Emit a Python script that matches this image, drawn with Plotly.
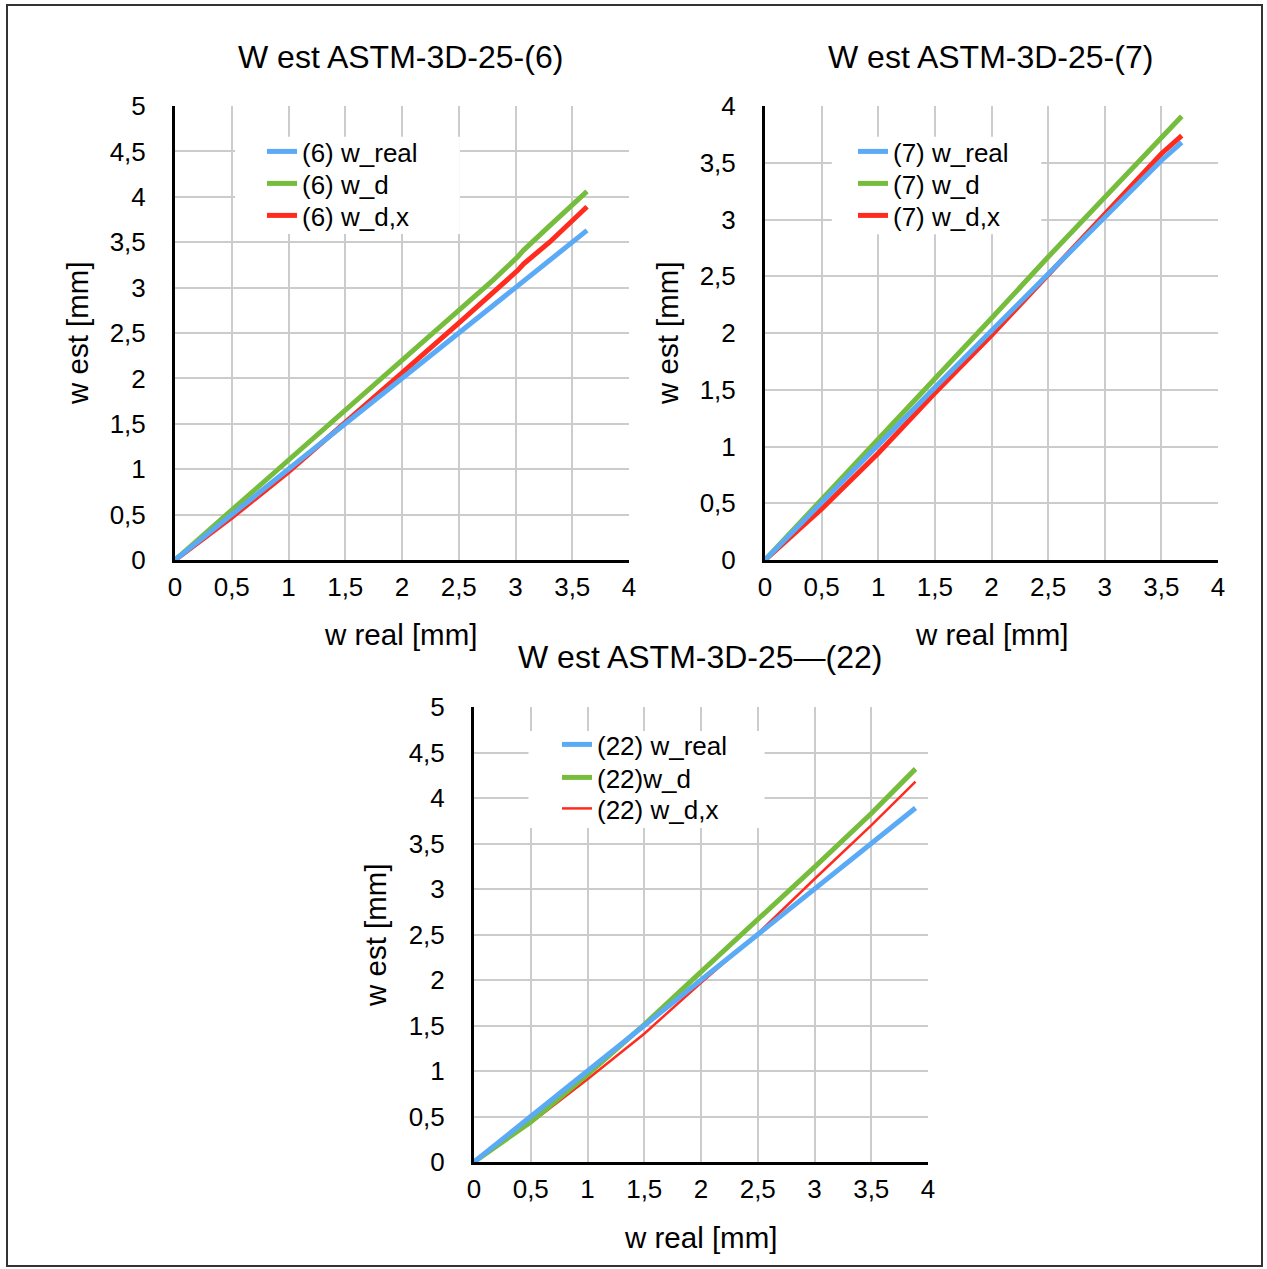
import plotly.graph_objects as go

# ---------------- data ----------------
x6 = [0, 0.5, 1.0, 1.5, 2.0, 2.5, 2.8, 3.02, 3.07, 3.3, 3.63]
w_real6 = [0, 0.5, 1.0, 1.5, 2.0, 2.5, 2.8, 3.02, 3.07, 3.3, 3.63]
w_d6 = [0, 0.55, 1.09, 1.64, 2.19, 2.75, 3.08, 3.34, 3.41, 3.68, 4.06]
w_dx6 = [0, 0.47, 0.97, 1.51, 2.06, 2.61, 2.94, 3.19, 3.26, 3.50, 3.89]

x7 = [0, 0.5, 1.0, 1.5, 2.0, 2.5, 3.0, 3.5, 3.68]
w_real7 = [0, 0.51, 1.01, 1.52, 2.02, 2.52, 3.01, 3.52, 3.68]
w_d7 = [0, 0.53, 1.06, 1.60, 2.13, 2.67, 3.19, 3.71, 3.91]
w_dx7 = [0, 0.45, 0.94, 1.47, 1.98, 2.51, 3.04, 3.58, 3.74]

x22 = [0, 0.5, 1.0, 1.5, 2.0, 2.5, 3.0, 3.5, 3.89]
w_real22 = [0, 0.5, 1.0, 1.5, 2.0, 2.5, 3.0, 3.5, 3.89]
w_d22 = [0, 0.44, 0.96, 1.51, 2.09, 2.66, 3.24, 3.83, 4.32]
w_dx22 = [0, 0.43, 0.91, 1.41, 1.97, 2.51, 3.11, 3.70, 4.18]

x_tickvals = [0, 0.5, 1, 1.5, 2, 2.5, 3, 3.5, 4]
x_ticktext = ["0", "0,5", "1", "1,5", "2", "2,5", "3", "3,5", "4"]
y5_tickvals = [0, 0.5, 1, 1.5, 2, 2.5, 3, 3.5, 4, 4.5, 5]
y5_ticktext = ["0", "0,5", "1", "1,5", "2", "2,5", "3", "3,5", "4", "4,5", "5"]
y4_tickvals = [0, 0.5, 1, 1.5, 2, 2.5, 3, 3.5, 4]
y4_ticktext = ["0", "0,5", "1", "1,5", "2", "2,5", "3", "3,5", "4"]

titles = ["W est ASTM-3D-25-(6)", "W est ASTM-3D-25-(7)", "W est ASTM-3D-25\u2014(22)"]
x_title = "w real [mm]"
y_title = "w est [mm]"

names6 = ["(6) w_real", "(6) w_d", "(6) w_d,x"]
names7 = ["(7) w_real", "(7) w_d", "(7) w_d,x"]
names22 = ["(22) w_real", "(22)w_d", "(22) w_d,x"]

BLUE = "#5AAAF5"
GREEN = "#77BD3D"
RED = "#FF2B1E"
FONT = "Liberation Sans, Arial, Helvetica, sans-serif"

W, H = 1267, 1269


def px(v):
    return v / W


def py(v):
    return 1 - v / H


fig = go.Figure()

# one legend per entry so the entry spacing matches the original
sets = [
    (x6, w_real6, w_d6, w_dx6, names6, "x", "y", ["legend", "legend2", "legend3"], 5),
    (x7, w_real7, w_d7, w_dx7, names7, "x2", "y2", ["legend4", "legend5", "legend6"], 5),
    (x22, w_real22, w_d22, w_dx22, names22, "x3", "y3", ["legend7", "legend8", "legend9"], 2.5),
]
for xs, wr, wd, wdx, names, xa, ya, lgs, redw in sets:
    fig.add_trace(go.Scatter(x=xs, y=wdx, mode="lines", name=names[2],
                             line=dict(color=RED, width=redw), xaxis=xa, yaxis=ya,
                             legend=lgs[2]))
    fig.add_trace(go.Scatter(x=xs, y=wd, mode="lines", name=names[1],
                             line=dict(color=GREEN, width=5), xaxis=xa, yaxis=ya,
                             legend=lgs[1]))
    fig.add_trace(go.Scatter(x=xs, y=wr, mode="lines", name=names[0],
                             line=dict(color=BLUE, width=5), xaxis=xa, yaxis=ya,
                             legend=lgs[0]))


def xaxis_cfg(dom, anchor):
    return dict(domain=dom, anchor=anchor, range=[0, 4], tickvals=x_tickvals,
                ticktext=x_ticktext, showgrid=True, gridcolor="#CCCCCC", gridwidth=1.5,
                zeroline=False, showline=True, linecolor="black", linewidth=3,
                ticks="", ticklabelstandoff=2, automargin=False,
                tickfont=dict(family=FONT, size=26, color="black"))


def yaxis_cfg(dom, anchor, top, tv, tt):
    return dict(domain=dom, anchor=anchor, range=[0, top], tickvals=tv, ticktext=tt,
                showgrid=True, gridcolor="#CCCCCC", gridwidth=1.5,
                zeroline=False, showline=True, linecolor="black", linewidth=3,
                ticks="", ticklabelstandoff=21, automargin=False,
                tickfont=dict(family=FONT, size=26, color="black"))


fig.update_layout(
    width=W, height=H, autosize=False,
    margin=dict(l=0, r=0, t=0, b=0, pad=0, autoexpand=False),
    paper_bgcolor="white", plot_bgcolor="white",
    font=dict(family=FONT, color="black"),
    xaxis=xaxis_cfg([px(175), px(629)], "y"),
    yaxis=yaxis_cfg([py(560), py(106)], "x", 5, y5_tickvals, y5_ticktext),
    xaxis2=xaxis_cfg([px(765), px(1218)], "y2"),
    yaxis2=yaxis_cfg([py(560), py(106)], "x2", 4, y4_tickvals, y4_ticktext),
    xaxis3=xaxis_cfg([px(474), px(928)], "y3"),
    yaxis3=yaxis_cfg([py(1162), py(707)], "x3", 5, y5_tickvals, y5_ticktext),
    showlegend=True,
)

leg_common = dict(xanchor="left", yanchor="top", bgcolor="rgba(0,0,0,0)", borderwidth=0,
                  font=dict(family=FONT, size=26, color="black"))
leg_pos = {
    "legend": (262, 128), "legend2": (262, 160), "legend3": (262, 192),
    "legend4": (853, 128), "legend5": (853, 160), "legend6": (853, 192),
    "legend7": (557, 721), "legend8": (557, 754), "legend9": (557, 785),
}
fig.update_layout(**{k: dict(x=px(v[0]), y=py(v[1]), **leg_common) for k, v in leg_pos.items()})

# white legend backgrounds (above gridlines, below traces)
legend_boxes = [
    ("x", "y", 0.53, 2.51, 3.59, 4.66),
    ("x2", "y2", 0.59, 2.44, 2.87, 3.73),
    ("x3", "y3", 0.48, 2.56, 3.67, 4.735),
]
for xr, yr, bx0, bx1, by0, by1 in legend_boxes:
    fig.add_shape(type="rect", xref=xr, yref=yr, x0=bx0, x1=bx1, y0=by0, y1=by1,
                  layer="between", line=dict(width=0), fillcolor="white")

annots = [
    (400, 57, titles[0], 32, 0),
    (990, 57, titles[1], 32, 0),
    (700, 657, titles[2], 32, 0),
    (401, 634, x_title, 29.5, 0),
    (991, 634, x_title, 29.5, 0),
    (700, 1237, x_title, 29.5, 0),
    (77, 333, y_title, 29.5, -90),
    (667, 333, y_title, 29.5, -90),
    (376, 935, y_title, 29.5, -90),
]
for ax_, ay_, txt, fs, ang in annots:
    fig.add_annotation(x=px(ax_), y=py(ay_), xref="paper", yref="paper", text=txt,
                       showarrow=False, xanchor="center", yanchor="middle",
                       textangle=ang, font=dict(family=FONT, size=fs, color="black"))

fig.add_shape(type="rect", xref="paper", yref="paper",
              x0=px(7), x1=px(1262), y0=py(1266), y1=py(5),
              line=dict(color="#333333", width=2), fillcolor="rgba(0,0,0,0)")

fig.write_html("out.html")
